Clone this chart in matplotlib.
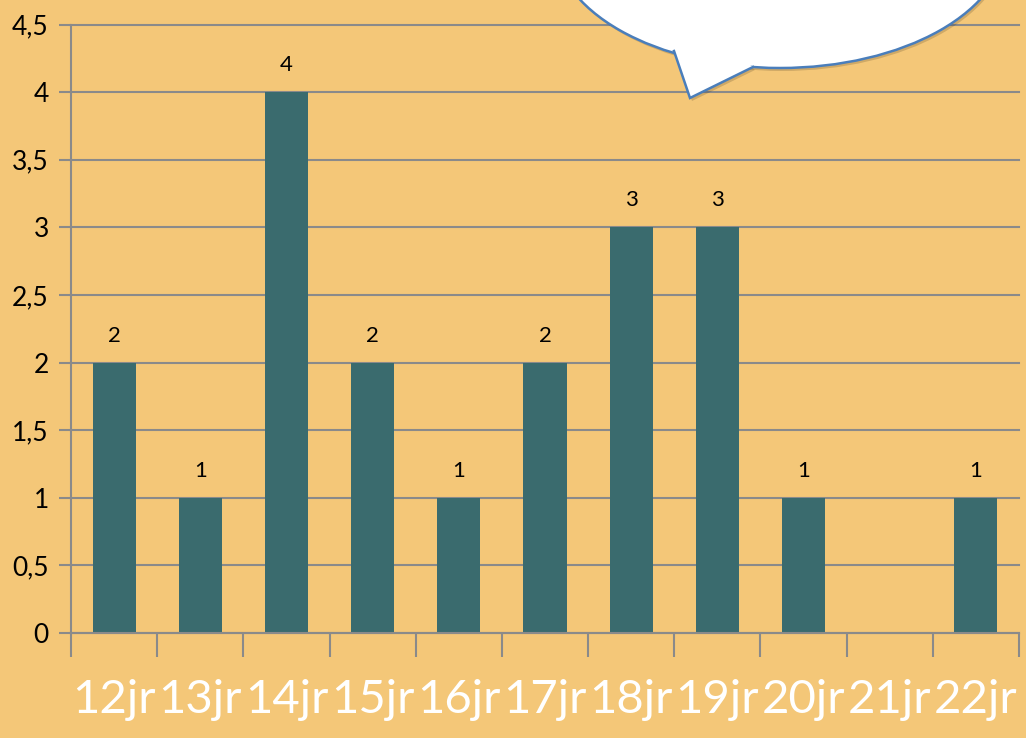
import matplotlib.pyplot as plt
import numpy as np
from matplotlib.patches import Ellipse, Polygon

days = ["12jr", "13jr", "14jr", "15jr", "16jr", "17jr", "18jr", "19jr", "20jr", "21jr", "22jr"]
counts = [2, 1, 4, 2, 1, 2, 3, 3, 1, 0, 1]
y_ticks = [0, 0.5, 1, 1.5, 2, 2.5, 3, 3.5, 4, 4.5]
y_labels = ["0", "0,5", "1", "1,5", "2", "2,5", "3", "3,5", "4", "4,5"]

bg = "#F4C778"
bar_color = "#3A6B6E"
grid_color = "#8A8A8A"

fig = plt.figure(figsize=(10.26, 7.38), dpi=100, facecolor=bg)
ax = fig.add_axes([71 / 1026, 105 / 738, 948 / 1026, 608.5 / 738], facecolor=bg)

x = np.arange(len(days))
ax.bar(x, counts, width=0.5, color=bar_color, zorder=3)

# data labels, skip empty days
for xi, v in zip(x, counts):
    if v > 0:
        ax.text(xi, v + 0.2, str(v), ha="center", va="center", fontsize=16,
                family="Lato", color="black", zorder=4)

ax.set_xlim(-0.5, len(days) - 0.5)
ax.set_ylim(0, 4.5)
ax.set_yticks(y_ticks)
ax.set_yticklabels(y_labels, family="Lato", fontsize=19)
ax.grid(axis="y", color=grid_color, linewidth=1.5, zorder=1)
for gl in ax.get_ygridlines():
    gl.set_clip_on(False)

# category boundaries get the tick marks, labels sit in the middle
ax.set_xticks(np.arange(-0.5, len(days), 1.0))
ax.set_xticklabels([])
ax.set_xticks(x, minor=True)
ax.set_xticklabels(days, minor=True, family="Lato", fontsize=34, color="white")
ax.tick_params(axis="x", which="major", length=17, width=1.5, color=grid_color, direction="out")
ax.tick_params(axis="x", which="minor", length=0, pad=33)
ax.tick_params(axis="y", length=9, width=1.5, color=grid_color, pad=7)

for side in ["top", "right"]:
    ax.spines[side].set_visible(False)
for side in ["left", "bottom"]:
    ax.spines[side].set_color(grid_color)
    ax.spines[side].set_linewidth(1.5)
    ax.spines[side].set_zorder(5)

# speech bubble over the top of the chart
ov = fig.add_axes([0, 0, 1, 1], facecolor="none")
ov.set_xlim(0, 1026)
ov.set_ylim(738, 0)
ov.axis("off")

cx, cy, w, h = 780, -60, 452, 256
tail = [(674, 51), (690, 98), (753, 67)]
edge = "#4A7EBB"

# soft shadow
ov.add_patch(Ellipse((cx + 2, cy + 3), w, h, facecolor="#000000", alpha=0.15, edgecolor="none", zorder=1))
ov.add_patch(Polygon([(p[0] + 2, p[1] + 3) for p in tail] + [(713, 40)], closed=True,
                     facecolor="#000000", alpha=0.15, edgecolor="none", zorder=1))

ov.add_patch(Ellipse((cx, cy), w, h, facecolor="white", edgecolor=edge, linewidth=1.8, zorder=2))
ov.add_patch(Polygon(tail + [(713, 40)], closed=True, facecolor="white", edgecolor="none", zorder=3))
tx, ty = zip(*tail)
ov.plot(tx, ty, color=edge, linewidth=1.8, zorder=4, solid_joinstyle="miter")

fig.savefig("out.png", dpi=100, facecolor=bg)
